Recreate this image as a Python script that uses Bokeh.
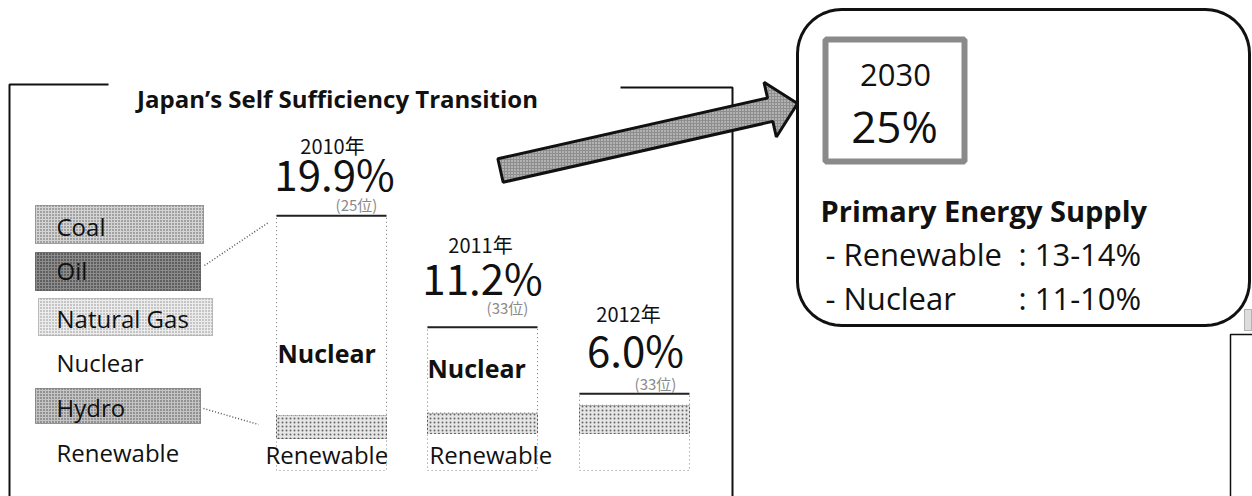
import numpy as np
from bokeh.plotting import figure
from bokeh.models import Range1d, ColumnDataSource
from bokeh.core.properties import value
from bokeh.embed import file_html
from bokeh.resources import INLINE

# ---------------- data ----------------
title_text = "Japan\u2019s Self Sufficiency Transition"
years = ["2010年", "2011年", "2012年"]
self_sufficiency = [19.9, 11.2, 6.0]
ranks = ["(25位)", "(33位)", "(33位)"]
nuclear = [15.6, 6.7, 0.9]
hydro = [1.8, 1.6, 2.2]
renewable = [2.5, 2.9, 2.9]
legend_labels = ["Coal", "Oil", "Natural Gas", "Nuclear", "Hydro", "Renewable"]
target_year = "2030"
target_share = "25%"
supply_title = "Primary Energy Supply"
supply_items = ["- Renewable", "- Nuclear"]
supply_ranges = [": 13-14%", ": 11-10%"]

# ---------------- layout ----------------
W, H = 1252, 496
OX, OY = 0, 0
BASE = 470.0        # pixel row of 0 %
PX_PER_PCT = 12.8

FONT = value("Open Sans")
JFONT = value("Noto Sans CJK JP")

p = figure(width=W, height=H, x_range=Range1d(OX, OX + W), y_range=Range1d(OY + H, OY),
           output_backend="svg", toolbar_location=None, x_axis_type=None, y_axis_type=None,
           min_border=0, outline_line_color=None, background_fill_color="white",
           border_fill_color="white")
p.extra_y_ranges = {"pct": Range1d(start=(BASE - (OY + H)) / PX_PER_PCT,
                                   end=(BASE - OY) / PX_PER_PCT)}


def txt(x, y, s, size, font=FONT, style="normal", align="left", color="#111111", baseline="middle"):
    p.text(x=[x], y=[y], text=[s], text_font=font, text_font_size=size, text_font_style=style,
           text_align=align, text_baseline=baseline, text_color=color)


# ---------- left frame ----------
p.line(x=[108, 9, 9], y=[84, 84, 500], line_color="#111111", line_width=2)
p.line(x=[620, 732, 732], y=[87, 87, 500], line_color="#111111", line_width=2)
txt(337, 98, title_text, "24px", style="bold", align="center")

# ---------- legend (left) ----------
leg_y = [226, 270, 318, 362, 407, 452]
leg_box = {
    0: dict(x0=35, x1=203, y0=205, y1=243, fill="#d4d4d4", hatch="#555555"),
    1: dict(x0=35, x1=200, y0=252, y1=290, fill="#8c8c8c", hatch="#1a1a1a"),
    2: dict(x0=38, x1=212, y0=298, y1=335, fill="#ececec", hatch="#8a8a8a"),
    4: dict(x0=35, x1=200, y0=388, y1=423, fill="#c4c4c4", hatch="#444444"),
}
for i, b in leg_box.items():
    p.quad(left=[b["x0"]], right=[b["x1"]], top=[b["y0"]], bottom=[b["y1"]],
           fill_color=b["fill"], hatch_pattern="dot", hatch_color=b["hatch"], hatch_scale=3,
           hatch_weight=1, line_color=b["hatch"], line_dash="1 1", line_width=1)
for i, lab in enumerate(legend_labels):
    txt(56, leg_y[i], lab, "24px", color="#111111")

# leader lines
p.line(x=[204, 268], y=[265, 222], line_color="#555555", line_dash="1 2", line_width=1.5)
p.line(x=[203, 258], y=[408, 424], line_color="#555555", line_dash="1 2", line_width=1.5)

# ---------- stacked bars ----------
bar_x = [331, 482, 634]
bar_w = 110
r_top = list(renewable)
h_top = [r + h for r, h in zip(renewable, hydro)]
n_top = [a + n for a, n in zip(h_top, nuclear)]
src = ColumnDataSource(dict(x=bar_x, zero=[0.0] * 3, r_top=r_top, h_top=h_top, n_top=n_top,
                            x0=[x - bar_w / 2 for x in bar_x], x1=[x + bar_w / 2 for x in bar_x]))

p.vbar(x="x", width=bar_w, bottom="zero", top="r_top", source=src, y_range_name="pct",
       fill_color="white", line_color="#888888", line_dash="1 3", line_width=1)
p.vbar(x="x", width=bar_w, bottom="r_top", top="h_top", source=src, y_range_name="pct",
       fill_color="#e6e6e6", hatch_pattern="dot", hatch_color="#666666", hatch_scale=4,
       hatch_weight=1, line_color="#555555", line_dash="2 2", line_width=1)
p.vbar(x="x", width=bar_w, bottom="h_top", top="n_top", source=src, y_range_name="pct",
       fill_color="white", line_color="#777777", line_dash="1 3", line_width=1)
p.segment(x0="x0", y0="n_top", x1="x1", y1="n_top", source=src, y_range_name="pct",
          line_color="#222222", line_width=2)

# labels above bars
year_off = [-70, -83, -80]
year_dx = [1, -2, -6]
pct_off = [-43, -51, -45]
pct_dx = [3, 0, 1]
rank_off = [-11, -20, -10]
rank_dx = [25, 25, 21]
lab_src = ColumnDataSource(dict(
    yx=[x + d for x, d in zip(bar_x, year_dx)], px=[x + d for x, d in zip(bar_x, pct_dx)],
    rx=[x + d for x, d in zip(bar_x, rank_dx)], top=n_top, years=years,
    pcts=["%.1f%%" % v for v in self_sufficiency], ranks=ranks,
    yo=year_off, po=pct_off, ro=rank_off))
p.text(x="yx", y="top", y_offset="yo", text="years", source=lab_src, y_range_name="pct",
       text_font=JFONT, text_font_size="20px", text_align="center", text_baseline="middle",
       text_color="#111111")
p.text(x="px", y="top", y_offset="po", text="pcts", source=lab_src, y_range_name="pct",
       text_font=JFONT, text_font_size="42px", text_align="center", text_baseline="middle",
       text_color="#111111")
p.text(x="rx", y="top", y_offset="ro", text="ranks", source=lab_src, y_range_name="pct",
       text_font=JFONT, text_font_size="15px", text_align="center", text_baseline="middle",
       text_color="#8a8a8a")

# in-bar labels
txt(277, 352, "Nuclear", "25px", style="bold")
txt(427, 367, "Nuclear", "25px", style="bold")
txt(265, 454, "Renewable", "24px")
txt(429, 454, "Renewable", "24px")

# ---------- arrow ----------
tail = np.array([500.0, 170.0])
tip = np.array([797.0, 103.0])
d = (tip - tail) / np.linalg.norm(tip - tail)
n = np.array([-d[1], d[0]])
base = tip - 28 * d
pts = [tail + 12 * n, base + 12 * n, base + 28 * n, tip, base - 28 * n, base - 12 * n, tail - 12 * n]
p.patch(x=[q[0] for q in pts], y=[q[1] for q in pts], fill_color="#8e8e8e",
        hatch_pattern="dot", hatch_color="#e8e8e8", hatch_scale=3, hatch_weight=1,
        line_color="#111111", line_width=3)

# ---------- right rounded box ----------
def rounded(x0, y0, x1, y1, r, k=12):
    xs, ys = [], []
    for cx, cy, a0 in [(x1 - r, y0 + r, -90), (x1 - r, y1 - r, 0), (x0 + r, y1 - r, 90), (x0 + r, y0 + r, 180)]:
        a = np.radians(np.linspace(a0, a0 + 90, k))
        xs += list(cx + r * np.cos(a))
        ys += list(cy + r * np.sin(a))
    return xs, ys

rx, ry = rounded(797, 9, 1249, 325, 44)
p.patch(x=rx, y=ry, fill_color=None, line_color="#111111", line_width=3)

p.quad(left=[825], right=[964], top=[39], bottom=[161], fill_color=None,
       line_color="#8a8a8a", line_width=6)
txt(895, 74, target_year, "31px", align="center")
txt(894, 125, target_share, "44px", align="center")
txt(820, 210, supply_title, "29px", style="bold")
sup_y = [253, 297]
for i in range(2):
    txt(825, sup_y[i], supply_items[i], "31px")
    txt(1018, sup_y[i], supply_ranges[i], "31px")

# ---------- partial frame bottom right ----------
p.line(x=[1230, 1230, 1252], y=[500, 334, 334], line_color="#111111", line_width=1.5)
p.quad(left=[1244], right=[1251], top=[309], bottom=[330], fill_color="#dddddd",
       line_color="#777777", line_dash="1 1", line_width=1)

open("out.html", "w").write(file_html(p, INLINE))
